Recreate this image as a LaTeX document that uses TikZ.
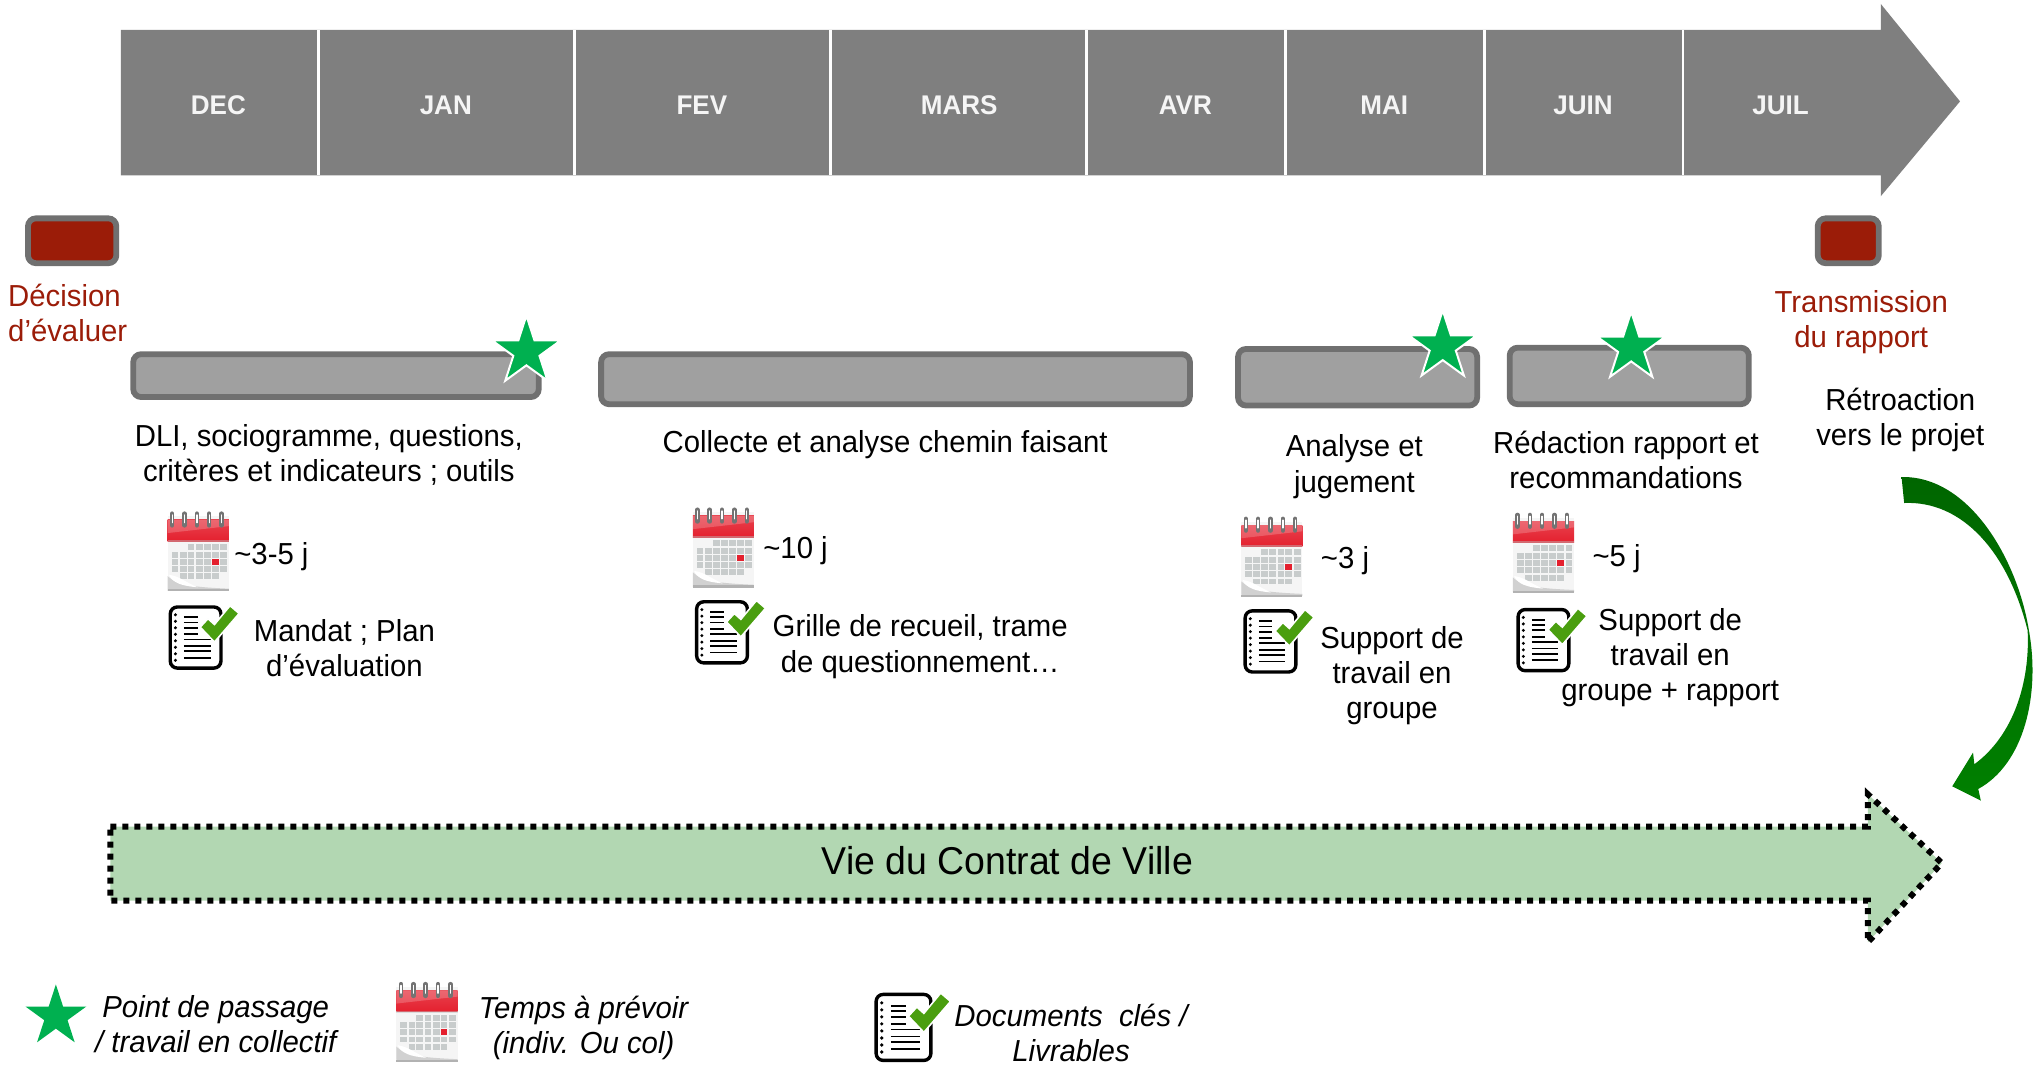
\documentclass[tikz,border=0pt]{standalone}
\usepackage{fontspec}
\setmainfont{Liberation Sans}[FakeStretch=0.965]
\usetikzlibrary{shapes.geometric}
\definecolor{tlgray}{HTML}{7F7F7F}
\definecolor{barfill}{HTML}{A0A0A0}
\definecolor{barline}{HTML}{707070}
\definecolor{redbox}{HTML}{9B1C08}
\definecolor{startxt}{HTML}{00B050}
\definecolor{lifefill}{HTML}{B2D7B2}
\definecolor{calred}{HTML}{E4202E}
\definecolor{calcell}{HTML}{C8CCCC}
\definecolor{checkg}{HTML}{4A9E0F}
\tikzset{
  lab/.style={font=\fontsize{15.2}{17.6}\selectfont,align=center,inner sep=0pt,text=black},
  leftlab/.style={lab,anchor=west},
  leg/.style={lab,font=\fontsize{15.2}{17.6}\selectfont\itshape},
  redlab/.style={lab,text=redbox},
  month/.style={font=\fontsize{13.5}{16}\selectfont\bfseries,text=white!96!black,inner sep=0pt},
  phasebar/.style={draw=barline,fill=barfill,line width=2.9pt,rounded corners=4pt},
  milebox/.style={draw=barline,fill=redbox,line width=2.9pt,rounded corners=4pt},
  passstar/.style={star,star points=5,star point ratio=2.618,fill=startxt,draw=white,line width=1pt,minimum size=36pt,inner sep=0pt},
  calicon/.pic={
    \fill[white!96!black] (1,4) rectangle (48,56);
    \shade[top color=calred!85!white,bottom color=calred] (1,6.5) rectangle (48,22);
    \fill[white,opacity=.2] (1,6.5) -- (48,6.5) -- (48,11) -- (1,16) -- cycle;
    \fill[black!25,opacity=.45] (1,21) rectangle (48,22.5);
    \foreach \rx in {4.5,14,23.5,33,42.5}{
      \draw[black!55,line width=2.2pt,line cap=round] (\rx,2) -- (\rx,10.5);
      \draw[white,line width=.7pt,line cap=round] (\rx,3) -- (\rx,8.5);
    }
    \foreach \cx/\cy in {16.4/24,22.6/24,29/24,35/24,41.5/24,
      4/29.5,10.3/29.5,16.4/29.5,22.6/29.5,29/29.5,35/29.5,41.5/29.5,
      4/34.6,10.3/34.6,16.4/34.6,22.6/34.6,29/34.6,41.5/34.6,
      4/39.7,10.3/39.7,16.4/39.7,22.6/39.7,29/39.7,35/39.7,41.5/39.7,
      10.3/45,16.4/45,22.6/45,29/45,35/45}{
      \fill[calcell] (\cx,\cy) rectangle ++(5.2,4.2);
    }
    \fill[calred] (35,34.6) rectangle ++(5.2,4.2);
    \fill[black!18] (1,47) .. controls (8,54) and (25,55) .. (48,56) -- (48,57.5) -- (1,57.5) -- cycle;
    \fill[white] (2,46) .. controls (10,47) and (14,51) .. (24,55) .. controls (12,54) and (5,52) .. (2,46) -- cycle;
    \fill[black!30] (1,56.5) rectangle (48,58);
  },
  docicon/.pic={
    \draw[black,line width=1.7pt,rounded corners=3.5pt,fill=white] (1,1) rectangle (40,48);
    \foreach \dy in {7,12,17,22,27,32,37,42}{
      \fill[black] (5,\dy) circle (1.3);
    }
    \foreach \ly in {9,13,17,22}{
      \draw[black,line width=.9pt] (11.5,\ly) -- (22,\ly);
    }
    \foreach \ly in {26,31,35,40}{
      \draw[black,line width=.9pt] (11.5,\ly) -- (32,\ly);
    }
    \fill[checkg,draw=white,line width=.8pt] (24,16.5) -- (35,28) -- (54,6) -- (47,0) -- (35,14.5) -- (30,10) -- cycle;
  }
}
\begin{document}
\begin{tikzpicture}[x=0.65pt,y=-0.65pt]
\useasboundingbox (0,0) rectangle (1568,821);
% timeline
\fill[tlgray] (93,23) -- (1447,23) -- (1447,3) -- (1508,78) -- (1447,151) -- (1447,135) -- (93,135) -- cycle;
\foreach \sx in {245,442,639,836,989,1142,1295}{
  \draw[white,line width=1.3pt] (\sx,23) -- (\sx,135);
}
\node[month] (dec) at (168,81) {DEC};
\node[month] (jan) at (343,81) {JAN};
\node[month] (fev) at (540,81) {FEV};
\node[month] (mars) at (738,81) {MARS};
\node[month] (avr) at (912,81) {AVR};
\node[month] (mai) at (1065,81) {MAI};
\node[month] (juin) at (1218,81) {JUIN};
\node[month] (juil) at (1370,81) {JUIL};
% milestones
\draw[milebox] (21.5,168) rectangle (89.5,202.5);
\draw[milebox] (1398.5,168) rectangle (1445.5,202.5);
\node[redlab,align=left,anchor=west] (decision) at (6,240.5) {Décision\\d’évaluer};
\node[redlab] (transm) at (1432,248) {Transmission\\du rapport};
\node[lab] (retro) at (1462,323) {Rétroaction\\vers le projet};
% phase bars
\draw[phasebar] (102.5,272.5) rectangle (414.5,305.5);
\draw[phasebar] (462.5,272.5) rectangle (915.5,311);
\draw[phasebar] (952.5,268.5) rectangle (1136.5,312);
\draw[phasebar] (1161.5,267.5) rectangle (1345.5,311);
\node[passstar] (s1) at (405,270.5) {};
\node[passstar] (s2) at (1110,266.5) {};
\node[passstar] (s3) at (1255,267.5) {};
% phase texts
\node[lab] (t1) at (253,350) {DLI, sociogramme, questions,\\critères et indicateurs ; outils};
\node[lab] (t2) at (681,342) {Collecte et analyse chemin faisant};
\node[lab] (t3) at (1042,359) {Analyse et\\jugement};
\node[lab] (t4) at (1251,354) {Rédaction rapport et\\recommandations};
% durations
\pic[yscale=1.07] (c1) at (128,393) {calicon};
\pic[yscale=1.07] (c2) at (532,390) {calicon};
\pic[yscale=1.07] (c3) at (954,397) {calicon};
\pic[yscale=1.07] (c4) at (1163,394) {calicon};
\node[leftlab] (d1) at (180,428) {\textasciitilde3-5 j};
\node[leftlab] (d2) at (587,424) {\textasciitilde10 j};
\node[leftlab] (d3) at (1016,431) {\textasciitilde3 j};
\node[leftlab] (d4) at (1225,430) {\textasciitilde5 j};
% documents
\pic (k1) at (130,466) {docicon};
\pic (k2) at (535,462) {docicon};
\pic (k3) at (957,469) {docicon};
\pic (k4) at (1167,468) {docicon};
\node[lab] (m1) at (265,498.5) {Mandat ; Plan\\d’évaluation};
\node[lab] (m2) at (708,497.5) {Grille de recueil, trame\\de questionnement…};
\node[lab] (m3) at (1071,520) {Support de\\travail en\\groupe};
\node[lab] (m4) at (1285,506) {Support de\\travail en\\groupe + rapport};
% feedback arrow
\shade[top color=green!40!black,bottom color=green!50!black,middle color=green!45!black]
  (1463,367) .. controls (1515,366) and (1552,430) .. (1561,485)
  .. controls (1570,535) and (1557,588) .. (1522,607)
  -- (1524,616) -- (1502,605) -- (1518,579) -- (1519,588)
  .. controls (1549,566) and (1562,525) .. (1560,485)
  .. controls (1545,425) and (1510,385) .. (1465,387) -- cycle;
% life arrow
\draw[fill=lifefill,draw=black,line width=3pt,dash pattern=on 3pt off 3pt]
  (85,636) -- (1437,636) -- (1437,611) -- (1494,664) -- (1437,725) -- (1437,693) -- (85,693) -- cycle;
\node[font=\fontsize{19.4}{24}\selectfont,inner sep=0pt] (vie) at (775,662) {Vie du Contrat de Ville};
% legend
\node[passstar,draw=none,minimum size=32pt] (legstar) at (43,782) {};
\node[leg] (l1) at (166,788) {Point de passage\\/ travail en collectif};
\pic[yscale=1.07] (c5) at (304,755) {calicon};
\node[leg] (l2) at (449,791) {Temps à prévoir\\(indiv. Ou col)};
\pic[scale=1.08] (k5) at (673,764) {docicon};
\node[leg] (l3) at (824,795) {Documents~ clés /\\Livrables};
\end{tikzpicture}
\end{document}
